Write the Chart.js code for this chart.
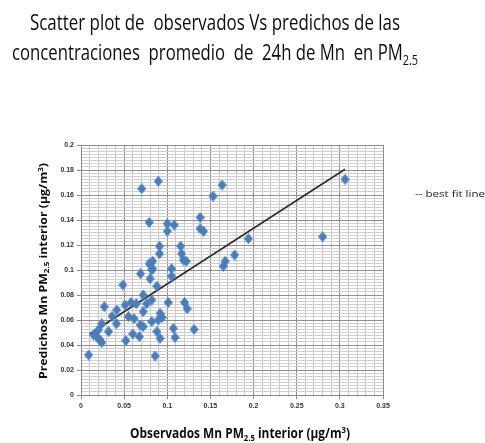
<!DOCTYPE html>
<html>
<head>
<meta charset="utf-8">
<script src="https://cdn.jsdelivr.net/npm/chart.js@4/dist/chart.umd.min.js"></script>
<style>
  html, body { margin: 0; background: #fff; }
  canvas { display: block; }
</style>
</head>
<body>
<canvas id="scatterChart" width="485" height="443"></canvas>
<script>
// Mn en PM2.5: observados (x) vs predichos (y), ug/m3
const observados = [
  0.0088, 0.0146, 0.019, 0.020, 0.022, 0.024, 0.024, 0.027, 0.032, 0.036,
  0.041, 0.0415, 0.0485, 0.051, 0.052, 0.055, 0.058, 0.060, 0.0615, 0.064,
  0.0677, 0.0685, 0.069, 0.0704, 0.072, 0.072, 0.072, 0.076, 0.079, 0.079,
  0.080, 0.082, 0.082, 0.082, 0.083, 0.083, 0.0858, 0.088, 0.088, 0.0896,
  0.0896, 0.091, 0.091, 0.0916, 0.0916, 0.094, 0.100, 0.100, 0.101, 0.105,
  0.105, 0.107, 0.108, 0.109, 0.1155, 0.1166, 0.1185, 0.120, 0.122, 0.123,
  0.131, 0.138, 0.138, 0.142, 0.153, 0.1635, 0.165, 0.167, 0.178, 0.194,
  0.280, 0.306
];
const predichos = [
  0.032, 0.048, 0.046, 0.052, 0.044, 0.042, 0.057, 0.0706, 0.0507, 0.063,
  0.057, 0.068, 0.088, 0.072, 0.0435, 0.0627, 0.074, 0.0488, 0.061, 0.073,
  0.0467, 0.056, 0.097, 0.165, 0.080, 0.0666, 0.0547, 0.073, 0.138, 0.105,
  0.093, 0.100, 0.076, 0.0587, 0.107, 0.101, 0.0312, 0.087, 0.0507, 0.171,
  0.060, 0.119, 0.113, 0.0653, 0.0453, 0.062, 0.137, 0.131, 0.074, 0.101,
  0.095, 0.0533, 0.136, 0.046, 0.119, 0.113, 0.108, 0.074, 0.107, 0.069,
  0.0525, 0.142, 0.133, 0.131, 0.159, 0.168, 0.103, 0.107, 0.112, 0.125,
  0.1266, 0.1725
];

// best fit line end points
const fitX = [0.01, 0.306];
const fitY = [0.0488, 0.1806];

// labelled ticks
const xMajor = [0, 0.05, 0.1, 0.15, 0.2, 0.25, 0.3, 0.35];
const yMajor = [0, 0.02, 0.04, 0.06, 0.08, 0.1, 0.12, 0.14, 0.16, 0.18, 0.2];

const isMajor = (list, v) => list.some(m => Math.abs(m - v) < 1e-6);

const narrow = "'Liberation Sans Narrow', 'Liberation Sans', sans-serif";
const calibri = "'Open Sans', 'Liberation Sans', sans-serif";

// slightly tall diamond marker
function makeDiamond(w, h, color) {
  const c = document.createElement('canvas');
  c.width = w;
  c.height = h;
  const g = c.getContext('2d');
  g.fillStyle = color;
  g.beginPath();
  g.moveTo(w / 2, 0);
  g.lineTo(w, h / 2);
  g.lineTo(w / 2, h);
  g.lineTo(0, h / 2);
  g.closePath();
  g.fill();
  return c;
}
const diamond = makeDiamond(9, 11, '#4a7ebb');

// text with sub/superscript pieces, squeezed to a given width
function drawRich(ctx, parts, x, y, size, weight, width, align) {
  const fontFor = p => weight + ' ' + (p.sub || p.sup ? size * 0.65 : size) + 'px ' + calibri;
  let total = 0;
  parts.forEach(p => { ctx.font = fontFor(p); p.w = ctx.measureText(p.t).width; total += p.w; });
  const sx = width / total;
  ctx.save();
  ctx.translate(align === 'left' ? x : x - width / 2, y);
  ctx.scale(sx, 1);
  ctx.textBaseline = 'alphabetic';
  ctx.textAlign = 'left';
  let cx = 0;
  parts.forEach(p => {
    ctx.font = fontFor(p);
    ctx.fillText(p.t, cx, p.sub ? size * 0.22 : p.sup ? -size * 0.38 : 0);
    cx += p.w;
  });
  ctx.restore();
}

const textPlugin = {
  id: 'chartTexts',
  afterDraw(chart) {
    const ctx = chart.ctx;
    ctx.save();
    ctx.fillStyle = '#0d0d0d';
    drawRich(ctx, [{ t: 'Scatter plot de  observados Vs predichos de las' }], 30, 30, 22, '500', 370, 'left');
    drawRich(ctx, [{ t: 'concentraciones  promedio  de  24h de Mn  en PM' }, { t: '2.5', sub: true }], 12, 60, 22, '500', 406, 'left');

    drawRich(ctx, [{ t: 'Observados Mn PM' }, { t: '2.5', sub: true }, { t: ' interior (µg/m' }, { t: '3', sup: true }, { t: ')' }],
      240, 438, 14, 'bold', 220);

    ctx.translate(47, 271);
    ctx.rotate(-Math.PI / 2);
    drawRich(ctx, [{ t: 'Predichos Mn PM' }, { t: '2.5', sub: true }, { t: ' interior (µg/m' }, { t: '3', sup: true }, { t: ')' }],
      0, 0, 11, 'bold', 216);
    ctx.restore();

    ctx.save();
    ctx.fillStyle = '#222';
    drawRich(ctx, [{ t: '-- best fit line' }], 415, 197, 9, 'normal', 70, 'left');
    ctx.restore();
  }
};

const ctx = document.getElementById('scatterChart');

new Chart(ctx, {
  type: 'scatter',
  data: {
    datasets: [
      {
        label: 'observados vs predichos',
        data: observados.map((x, i) => ({ x: x, y: predichos[i] })),
        pointStyle: diamond,
        pointRadius: 5,
        pointHoverRadius: 5,
        backgroundColor: '#4a7ebb',
        borderColor: '#4a7ebb',
        borderWidth: 0,
      },
      {
        type: 'line',
        label: 'best fit line',
        data: fitX.map((x, i) => ({ x: x, y: fitY[i] })),
        borderColor: '#2b2b2b',
        borderWidth: 1.6,
        pointRadius: 0,
        fill: false,
      },
    ],
  },
  options: {
    responsive: false,
    animation: false,
    layout: { padding: { top: 145, right: 102, bottom: 0, left: 0 } },
    plugins: {
      legend: { display: false },
      tooltip: { enabled: false },
    },
    scales: {
      x: {
        type: 'linear',
        min: 0,
        max: 0.35,
        afterFit: (scale) => { scale.height = 48; },
        border: { color: '#8a8a8a', width: 1 },
        grid: {
          color: (c) => isMajor(xMajor, c.tick.value) ? '#8f8f8f' : '#c8c8c8',
          tickColor: (c) => isMajor(xMajor, c.tick.value) ? '#8a8a8a' : 'rgba(0,0,0,0)',
          tickLength: 4,
        },
        ticks: {
          stepSize: 0.01,
          autoSkip: false,
          maxRotation: 0,
          padding: 3,
          color: '#333',
          font: { size: 7, weight: 'bold', family: narrow },
          callback: (v) => isMajor(xMajor, v) ? String(Math.round(v * 100) / 100) : '',
        },
      },
      y: {
        type: 'linear',
        min: 0,
        max: 0.2,
        afterFit: (scale) => { scale.width = 81; },
        border: { color: '#8a8a8a', width: 1 },
        grid: {
          color: (c) => isMajor(yMajor, c.tick.value) ? '#8f8f8f' : '#cfcfcf',
          tickColor: (c) => isMajor(yMajor, c.tick.value) ? '#8a8a8a' : 'rgba(0,0,0,0)',
          tickLength: 4,
        },
        ticks: {
          stepSize: 0.0025,
          autoSkip: false,
          padding: 3,
          color: '#333',
          font: { size: 7, weight: 'bold', family: narrow },
          callback: (v) => isMajor(yMajor, v) ? String(Math.round(v * 100) / 100) : '',
        },
      },
    },
  },
  plugins: [textPlugin],
});
</script>
</body>
</html>
